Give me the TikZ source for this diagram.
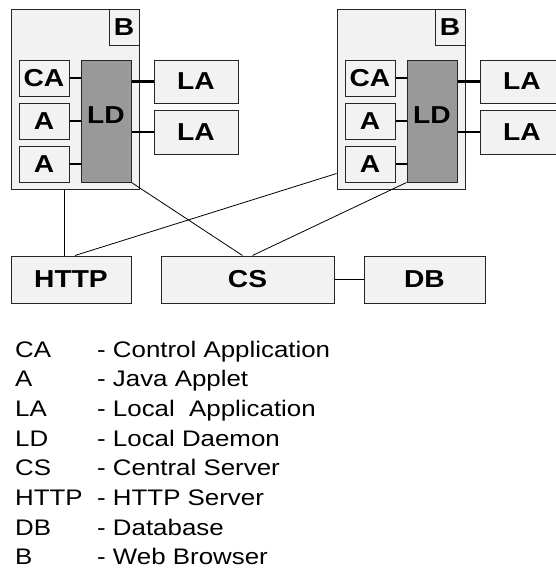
\documentclass[tikz,border=0pt]{standalone}
\usepackage{fontspec}
\setmainfont{Liberation Sans}[FakeStretch=1.15]
\usepackage{tikz}
\definecolor{boxgray}{HTML}{F2F2F2}
\definecolor{ldgray}{HTML}{999999}

\begin{document}
\begin{tikzpicture}[x=1pt,y=-1pt,
    box/.style={draw=black!85, line width=1pt, fill=boxgray, inner sep=0pt,
      font=\fontsize{24.5}{28}\selectfont\bfseries},
    daemon/.style={box, fill=ldgray, text depth=12pt},
    link/.style={line width=0.8pt},
    stub/.style={line width=2.5pt},
    legend/.style={inner sep=0pt, anchor=base west, font=\fontsize{22.5}{27}\selectfont}]
\useasboundingbox (0,0) rectangle (555,571);

\foreach \i/\dx in {1/0,2/326} {
  \node[box, minimum width=128pt, minimum height=180pt] (b\i) at (75+\dx,99) {};
  \node[box, minimum width=30pt, minimum height=36pt] (bl\i) at (124+\dx,27) {B};
  \node[box, minimum width=50pt, minimum height=36pt] (ca\i) at (44+\dx,78) {CA};
  \node[box, minimum width=50pt, minimum height=36pt] (appa\i) at (44+\dx,121) {A};
  \node[box, minimum width=50pt, minimum height=36pt] (appb\i) at (44+\dx,164) {A};
  \node[daemon, minimum width=50pt, minimum height=122pt] (ld\i) at (106+\dx,121) {LD};
  \node[box, minimum width=84pt, minimum height=43pt] (laa\i) at (196+\dx,81.5) {LA};
  \node[box, minimum width=84pt, minimum height=44pt] (lab\i) at (196+\dx,132) {LA};
  \draw[stub] (ca\i.east) -- (ca\i.east -| ld\i.west);
  \draw[stub] (appa\i.east) -- (appa\i.east -| ld\i.west);
  \draw[stub] (appb\i.east) -- (appb\i.east -| ld\i.west);
  \draw[stub] (laa\i.west) -- (laa\i.west -| ld\i.east);
  \draw[stub] (lab\i.west) -- (lab\i.west -| ld\i.east);
}

\node[box, minimum width=120pt, minimum height=47pt] (http) at (71,279.5) {HTTP};
\node[box, minimum width=173pt, minimum height=47pt] (cs) at (247.5,279.5) {CS};
\node[box, minimum width=121pt, minimum height=47pt] (db) at (424.5,279.5) {DB};

\draw[link] ([xshift=-7pt]http.north) -- ([xshift=-7pt]http.north |- b1.south);
\draw[link] ([xshift=4pt]http.north) -- ([yshift=16pt]b2.south west);
\draw[link] (ld1.south east) -- ([xshift=-5pt]cs.north);
\draw[link] ([xshift=5pt]cs.north) -- (ld2.south west);
\draw[link] (cs) -- (db);

\foreach \abbr/\desc [count=\k from 0] in {CA/Control Application, A/Java Applet,
    LA/Local\ \ Application, LD/Local Daemon, CS/Central Server, HTTP/HTTP Server,
    DB/Database, B/Web Browser} {
  \node[legend] (abbr\k) at (15,357+29.7*\k) {\abbr};
  \node[legend] (desc\k) at (97,357+29.7*\k) {- \desc};
}
\end{tikzpicture}
\end{document}
